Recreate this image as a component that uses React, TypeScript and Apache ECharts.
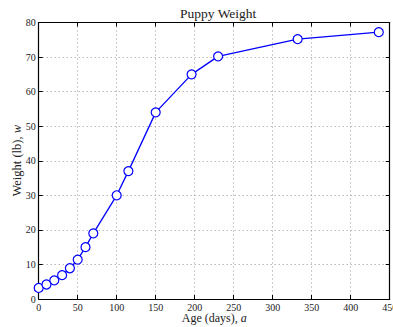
import React, { useEffect, useRef } from "react";
import * as echarts from "echarts";

const ages = [0, 10, 20, 30, 40, 50, 60, 70, 100, 115, 150, 196, 230, 332, 436];
const weights = [3.2, 4.2, 5.4, 6.9, 8.9, 11.4, 15, 19, 30, 37, 54, 65, 70.2, 75.2, 77.2];
const xTicks = [0, 50, 100, 150, 200, 250, 300, 350, 400, 450];
const yTicks = [0, 10, 20, 30, 40, 50, 60, 70, 80];

const FONT = "Liberation Serif";

export default function App() {
  const ref = useRef<HTMLDivElement>(null);
  useEffect(() => {
    const chart = echarts.init(ref.current!, null, { renderer: "svg" });
    const data = ages.map((a, i) => [a, weights[i]]);
    const axisCommon = {
      axisLine: { show: true, onZero: false, lineStyle: { color: "#000", width: 1.2 } },
      axisTick: { show: true, inside: true, length: 4, lineStyle: { color: "#000" } },
    };
    chart.setOption({
      animation: false,
      backgroundColor: "#fff",
      title: {
        text: "Puppy Weight",
        left: 175,
        top: 1,
        textStyle: { fontFamily: FONT, fontSize: 13.5, fontWeight: "normal", color: "#222" },
      },
      grid: {
        left: 38.7,
        right: 3.3,
        top: 22.5,
        bottom: 28,
        containLabel: false,
        outerBoundsMode: "none",
      },
      xAxis: [
        {
          type: "value",
          min: xTicks[0],
          max: xTicks[xTicks.length - 1],
          interval: 50,
          position: "bottom",
          ...axisCommon,
          axisLabel: { fontFamily: FONT, fontSize: 10, color: "#222", margin: 3 },
          splitLine: { show: true, lineStyle: { color: "#999", type: [1, 3], width: 1 } },
          name: "{n|Age (days), }{i|a}",
          nameLocation: "middle",
          nameGap: 13,
          nameMoveOverlap: false,
          nameTextStyle: {
            rich: {
              n: { fontFamily: FONT, fontSize: 12, color: "#222" },
              i: { fontFamily: FONT, fontSize: 12, fontStyle: "italic", color: "#222" },
            },
          },
        },
        {
          type: "value",
          min: xTicks[0],
          max: xTicks[xTicks.length - 1],
          interval: 50,
          position: "top",
          ...axisCommon,
          axisLabel: { show: false },
          splitLine: { show: false },
        },
      ],
      yAxis: [
        {
          type: "value",
          min: yTicks[0],
          max: yTicks[yTicks.length - 1],
          interval: 10,
          position: "left",
          ...axisCommon,
          axisLabel: { fontFamily: FONT, fontSize: 10, color: "#222", margin: 3 },
          splitLine: { show: true, lineStyle: { color: "#999", type: [1, 3], width: 1 } },
          name: "{n|Weight (lb), }{i|w}",
          nameLocation: "middle",
          nameGap: 15.5,
          nameRotate: 90,
          nameMoveOverlap: false,
          nameTextStyle: {
            rich: {
              n: { fontFamily: FONT, fontSize: 12.5, color: "#222" },
              i: { fontFamily: FONT, fontSize: 12.5, fontStyle: "italic", color: "#222" },
            },
          },
        },
        {
          type: "value",
          min: yTicks[0],
          max: yTicks[yTicks.length - 1],
          interval: 10,
          position: "right",
          ...axisCommon,
          axisLabel: { show: false },
          splitLine: { show: false },
        },
      ],
      series: [
        {
          type: "line",
          data,
          xAxisIndex: 0,
          yAxisIndex: 0,
          symbol: "circle",
          symbolSize: 9,
          showAllSymbol: true,
          clip: false,
          lineStyle: { color: "#0000ff", width: 1.3 },
          itemStyle: { color: "#fff", borderColor: "#0000ff", borderWidth: 1.2 },
          z: 5,
        },
      ],
    });
    return () => chart.dispose();
  }, []);
  return (
    <div
      ref={ref}
      style={{ position: "absolute", left: 0, top: 0, width: 393, height: 327 }}
    />
  );
}
